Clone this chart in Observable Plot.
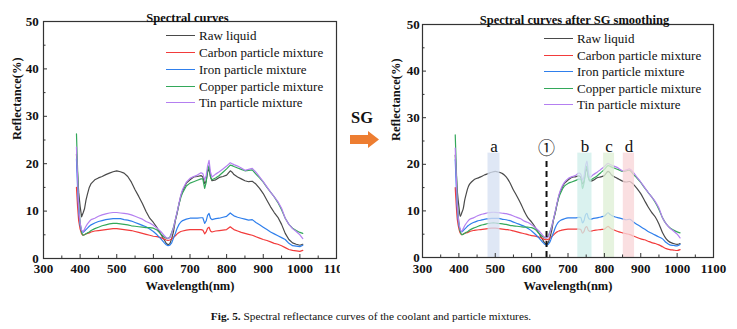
<!DOCTYPE html>
<html><head><meta charset="utf-8">
<script src="https://cdn.jsdelivr.net/npm/d3@7"></script>
<script src="https://cdn.jsdelivr.net/npm/@observablehq/plot@0.6"></script>
<style>
html,body{margin:0;padding:0;background:#fff;}
#wrap{position:relative;width:737px;height:329px;overflow:hidden;font-family:"Liberation Serif","Times New Roman",serif;color:#111;background:#fff;}
#wrap svg{overflow:visible;max-width:none !important;}
.pane{position:absolute;top:0;}
#left{width:340px;height:300px;overflow:hidden;}
.lg{position:absolute;font-size:13px;line-height:16px;white-space:nowrap;color:#111;}
.sw{position:absolute;height:0;width:29px;border-top:1.5px solid;}
#sg{position:absolute;left:342px;top:108px;width:40px;text-align:center;font-weight:bold;font-size:16.5px;line-height:20px;}
#caption{position:absolute;left:0;width:742px;top:309px;text-align:center;font-size:11.3px;line-height:14px;}
</style></head><body>
<div id="wrap">
  <div id="left" class="pane" style="left:0px"></div>
  <div id="right" class="pane" style="left:380px"></div>
  <div id="sg">SG</div>
  <svg id="arrow" width="32" height="20" style="position:absolute;left:349px;top:130px">
    <polygon points="1,5 19,5 19,1 30,9.5 19,18 19,14 1,14" fill="#ED7D31"/>
  </svg>
  <div id="caption"><b>Fig. 5.</b> Spectral reflectance curves of the coolant and particle mixtures.</div>
</div>
<script>
// ---- data ----
const wavelengths = [390,393,396,400,404,408,412,416,420,425,430,440,450,460,470,480,490,500,510,520,530,540,550,560,570,580,590,600,610,620,630,635,640,645,650,655,660,665,670,675,680,690,700,710,720,730,735,740,744,748,752,756,760,770,780,790,800,810,815,820,830,840,850,860,870,880,890,900,910,920,930,940,950,960,970,980,990,1000,1008];
const rawLiquid = [22,18,14,11,8.8,9.6,10.5,12.3,13.6,15.0,15.8,16.6,17.0,17.3,17.7,18.0,18.3,18.5,18.3,18.0,17.3,16.1,14.5,13.1,11.6,9.9,8.5,7.6,6.5,5.2,3.9,3.2,2.9,3.1,4.2,5.7,8.0,9.6,11.5,13.2,14.3,15.9,16.6,17.2,17.3,17.5,17.2,15.8,16.3,18.2,19.0,17.2,16.4,16.6,17.1,17.3,17.6,18.5,18.2,17.7,17.2,16.8,16.4,16.2,16.3,15.7,14.8,13.7,12.3,10.9,9.7,8.7,7.2,5.3,4.0,3.3,3.0,2.8,3.0];
const carbonMix = [15,11,8,6.2,5.2,4.9,5.0,5.2,5.3,5.4,5.6,5.8,5.9,6.0,6.1,6.2,6.3,6.3,6.2,6.1,6.0,5.9,5.7,5.5,5.3,5.1,4.9,4.7,4.6,4.4,4.1,3.9,3.8,3.9,4.1,4.5,4.8,5.2,5.5,5.7,5.8,6.0,6.1,6.1,6.1,6.1,6.0,5.2,5.6,6.4,6.6,5.8,5.6,5.8,5.9,6.0,6.1,6.7,6.4,6.1,5.8,5.5,5.3,5.1,4.9,4.6,4.3,4.0,3.8,3.5,3.2,3.0,2.7,2.3,1.9,1.7,1.6,1.5,1.7];
const ironMix = [21,15,10,7.0,5.8,5.5,5.8,6.1,6.4,6.8,7.1,7.5,7.8,8.0,8.2,8.3,8.4,8.4,8.4,8.2,8.1,7.9,7.6,7.3,7.0,6.7,6.2,5.7,5.0,4.2,3.3,2.9,2.7,2.8,3.3,4.3,5.3,6.4,7.2,7.7,8.0,8.3,8.5,8.5,8.5,8.6,8.6,7.4,7.9,9.1,9.5,8.5,8.2,8.4,8.5,8.7,8.9,9.6,9.3,9.0,8.7,8.5,8.3,8.1,8.2,7.6,7.1,6.6,6.1,5.6,5.2,4.8,4.4,4.0,3.2,2.7,2.6,2.5,2.8];
const copperMix = [26.3,19,12,7.5,5.5,4.9,5.0,5.2,5.4,5.6,5.9,6.3,6.6,6.9,7.1,7.3,7.4,7.4,7.3,7.2,7.1,6.9,6.8,6.7,6.6,6.5,6.5,6.4,6.0,5.2,4.5,4.3,4.2,4.5,5.5,6.6,8.2,9.8,11.5,12.9,13.9,15.3,15.9,16.2,16.5,16.8,16.8,14.8,16.0,18.6,19.6,17.2,16.6,17.0,17.5,18.2,18.9,19.7,19.6,19.4,19.1,18.8,18.5,18.6,18.7,17.8,17.0,16.1,15.0,14.0,13.0,11.8,10.3,8.5,7.2,6.4,5.9,5.5,5.3];
const tinMix = [23.5,17,11,7.5,6.0,5.6,6.2,6.8,7.3,7.8,8.2,8.5,8.9,9.2,9.4,9.6,9.7,9.7,9.6,9.5,9.4,9.2,8.9,8.6,8.3,7.8,7.5,7.0,6.4,5.7,4.8,4.4,4.2,4.4,5.3,6.5,8.2,9.9,11.7,13.4,14.6,16.1,16.9,17.3,17.6,18.1,17.9,16.6,17.4,19.5,20.7,18.2,17.2,17.8,18.3,18.9,19.5,20.2,20.0,19.8,19.5,19.1,18.6,18.8,19.0,18.2,17.2,16.2,15.1,14.0,13.0,12.0,10.6,8.5,7.2,6.3,5.7,5.0,4.2];
const seriesNames = ["Raw liquid","Carbon particle mixture","Iron particle mixture","Copper particle mixture","Tin particle mixture"];
const seriesValues = [rawLiquid, carbonMix, ironMix, copperMix, tinMix];
const seriesColors = ["#4a4a4a","#f23b3b","#2f7fec","#33a85a","#b47ff0"];
const xTicks = [300,400,500,600,700,800,900,1000,1100];
const xMinor = [350,450,550,650,750,850,950,1050];
const yTicks = [0,10,20,30,40,50];
const yMinor = [5,15,25,35,45];
const bandLabels = ["a","b","c","d"];
const bandStart = [480,727,798,852];
const bandEnd = [513,766,828,883];
const bandFills = ["#d6e0f2","#cfeeea","#dfefd6","#f9d6d8"];
const bandTop = 22.4;
const markerWl = 641;
const markerTop = 21.5;
const markerLabel = "①";
const titles = ["Spectral curves","Spectral curves after SG smoothing"];
const xTitle = "Wavelength(nm)";
const yTitle = "Reflectance(%)";

const SERIF = "Liberation Serif";

function panel(cfg) {
  const marks = [];
  seriesNames.forEach((name, s) => {
    marks.push(Plot.line(wavelengths, {x: d => d, y: seriesValues[s], stroke: seriesColors[s], strokeWidth: 1.2, curve: cfg.smooth ? "catmull-rom" : "linear"}));
  });
  if (cfg.bands) {
    bandLabels.forEach((lab, i) => {
      marks.push(Plot.rect([lab], {x1: bandStart[i], x2: bandEnd[i], y1: 0, y2: bandTop, fill: bandFills[i], fillOpacity: 0.78}));
    });
    marks.push(Plot.text(bandLabels, {x: (d, i) => (bandStart[i] + bandEnd[i]) / 2, y: bandTop, text: d => d, lineAnchor: "bottom", dy: -1, fontSize: 17, fontFamily: SERIF, fill: "#111"}));
    marks.push(Plot.ruleX([markerWl], {y1: 0, y2: markerTop, stroke: "#111", strokeWidth: 2, strokeDasharray: "6,4"}));
    marks.push(Plot.text([markerLabel], {x: markerWl, y: bandTop, text: d => d, lineAnchor: "bottom", dy: 1, fontSize: 17, fontFamily: "Noto Sans CJK SC", fill: "#111"}));
  }
  marks.push(Plot.frame({stroke: "#333", strokeWidth: 1.2}));
  marks.push(Plot.axisX(xTicks, {tickSize: -4, tickPadding: cfg.xPad, fontSize: 13, fontWeight: "bold", fontFamily: SERIF, fill: "#111", stroke: "#333", tickFormat: d => String(d), label: null}));
  marks.push(Plot.axisX(xMinor, {tickSize: -2.5, tickFormat: () => "", stroke: "#333", label: null}));
  marks.push(Plot.axisY(yTicks, {tickSize: -4, tickPadding: cfg.yPad, fontSize: 13, fontWeight: "bold", fontFamily: SERIF, fill: "#111", stroke: "#333", tickFormat: d => String(d), label: null}));
  marks.push(Plot.axisY(yMinor, {tickSize: -2.5, tickFormat: () => "", stroke: "#333", label: null}));
  marks.push(Plot.text([cfg.title], {frameAnchor: "top", dy: cfg.titleDy, dx: cfg.titleDx, text: d => d, fontSize: 12.5, fontWeight: "bold", fontFamily: SERIF, fill: "#111"}));
  marks.push(Plot.text([xTitle], {frameAnchor: "bottom", dy: cfg.xTitleDy, text: d => d, fontSize: 12.5, fontWeight: "bold", fontFamily: SERIF, fill: "#111"}));
  marks.push(Plot.text([yTitle], {frameAnchor: "left", dx: cfg.yTitleDx, rotate: -90, text: d => d, fontSize: 12.5, fontWeight: "bold", fontFamily: SERIF, fill: "#111"}));
  return Plot.plot({
    width: cfg.width, height: 300,
    marginLeft: cfg.ml, marginRight: cfg.mr, marginTop: cfg.mt, marginBottom: cfg.mb,
    style: {background: "transparent", fontFamily: SERIF, overflow: "visible", maxWidth: "none"},
    x: {type: "linear", domain: [300, 1100]},
    y: {type: "linear", domain: [0, 50]},
    marks
  });
}

document.getElementById("left").appendChild(panel({
  width: 350, ml: 43, mr: 14, mt: 21, mb: 42,
  xPad: 9, yPad: 8.7, title: titles[0], titleDy: -8.3, titleDx: -2.5, xTitleDy: 31, yTitleDx: -27, smooth: false, bands: false
}));
document.getElementById("right").appendChild(panel({
  width: 357, ml: 42, mr: 24, mt: 24, mb: 43,
  xPad: 10, yPad: 6.7, title: titles[1], titleDy: -9, titleDx: 6.5, xTitleDy: 32, yTitleDx: -27, smooth: true, bands: true
}));

// legends
const wrap = document.getElementById("wrap");
function legend(swX, textX, rowYs) {
  seriesNames.forEach((name, i) => {
    const sw = document.createElement("div");
    sw.className = "sw";
    sw.style.left = swX + "px";
    sw.style.top = (rowYs[i] - 0.75) + "px";
    sw.style.borderTopColor = seriesColors[i];
    wrap.appendChild(sw);
    const t = document.createElement("div");
    t.className = "lg";
    t.style.left = textX + "px";
    t.style.top = (rowYs[i] - 8) + "px";
    t.textContent = name;
    wrap.appendChild(t);
  });
}
legend(166, 199, [36, 53, 70, 87, 103]);
legend(544, 577, [39, 56, 72, 89, 105]);
</script>
</body></html>
